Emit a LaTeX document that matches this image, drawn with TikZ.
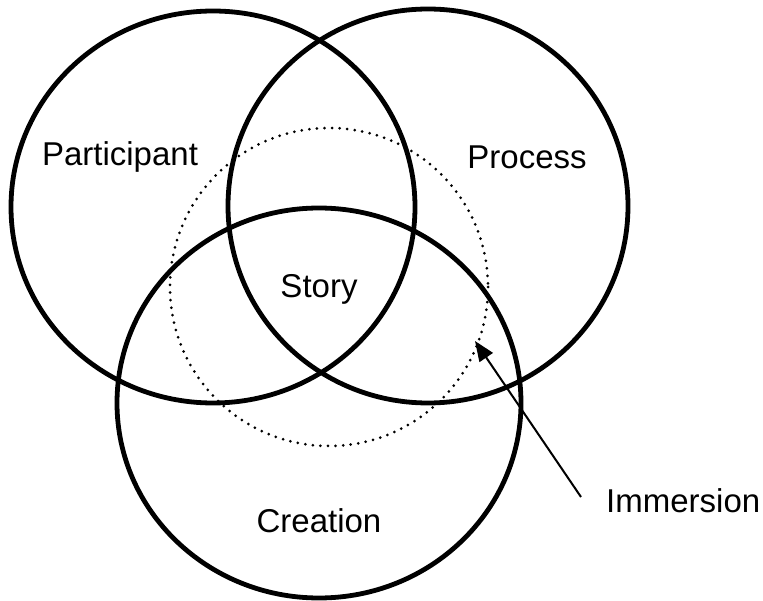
\documentclass[tikz,border=0pt]{standalone}
\usepackage{fontspec}
\setmainfont{Liberation Sans}
\usetikzlibrary{arrows.meta}
\begin{document}
\begin{tikzpicture}[x=1pt,y=-1pt,
  ring/.style={draw=black,line width=4.8pt},
  halo/.style={draw=black,line width=3pt,dash pattern=on 0pt off 7.6pt,line cap=round},
  lbl/.style={font=\fontsize{33}{38}\selectfont,inner sep=0pt},
  pointer/.style={draw=black,line width=2pt,-{Triangle[length=20pt,width=16pt]}}]
  \useasboundingbox (0,0) rectangle (763,601);
  % three overlapping sets
  \draw[ring] (213,207) ellipse [x radius=202,y radius=196];
  \draw[ring] (428,206) ellipse [x radius=200,y radius=197];
  \draw[ring] (319,403) ellipse [x radius=202,y radius=195];
  % dotted immersion boundary
  \draw[halo] (329,287) circle [radius=159];
  % labels
  \node[lbl] (participant) at (120,157) {Participant};
  \node[lbl] (process) at (527,157) {Process};
  \node[lbl] (story) at (319,289) {Story};
  \node[lbl] (creation) at (319,521) {Creation};
  \node[lbl,anchor=west] (immersion) at (606,501) {Immersion};
  \coordinate (tail) at (581,497);
  \coordinate (tip) at (475,341);
  \draw[pointer] (tail) -- (tip);
\end{tikzpicture}
\end{document}
